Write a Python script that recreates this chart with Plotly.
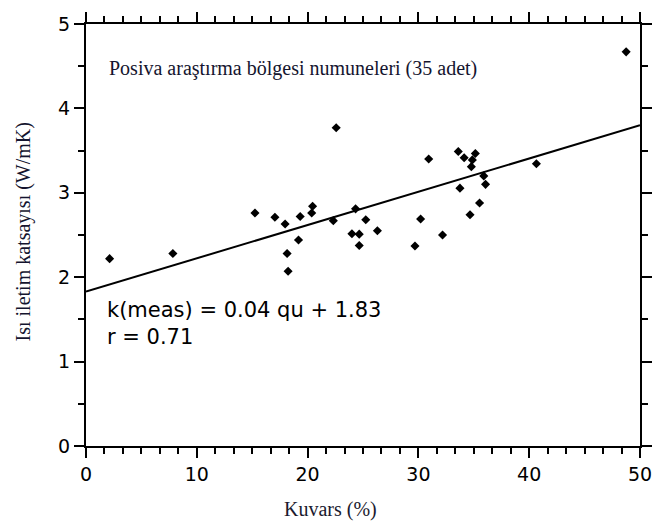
import plotly.graph_objects as go

# Data
quartz_pct = [2.13, 7.84, 15.25, 17.05, 17.97, 18.15, 18.24, 19.18, 19.33, 20.37,
              20.45, 22.32, 22.58, 24.0, 24.33, 24.66, 24.66, 25.25, 26.3, 29.69,
              30.2, 30.93, 32.18, 33.6, 33.75, 34.13, 34.66, 34.78, 34.87, 35.14,
              35.52, 35.9, 36.06, 40.65, 48.75]
conductivity = [2.22, 2.28, 2.76, 2.71, 2.63, 2.28, 2.07, 2.44, 2.72, 2.76,
                2.84, 2.67, 3.77, 2.515, 2.81, 2.51, 2.375, 2.68, 2.55, 2.37,
                2.69, 3.40, 2.50, 3.49, 3.055, 3.415, 2.74, 3.31, 3.39, 3.465,
                2.88, 3.20, 3.10, 3.345, 4.67]

fit_slope = 0.0394
fit_intercept = 1.83
fit_x = [0, 50]
fit_y = [fit_intercept + fit_slope * v for v in fit_x]

x_range = [0, 50]
y_range = [0, 5]
x_major_step = 10
x_minor_step = 10 / 6
y_major_step = 1
y_minor_step = 0.5

fig = go.Figure()
fig.add_trace(go.Scatter(x=fit_x, y=fit_y, mode="lines",
                         line=dict(color="black", width=2), showlegend=False,
                         hoverinfo="skip"))
fig.add_trace(go.Scatter(x=quartz_pct, y=conductivity, mode="markers",
                         marker=dict(symbol="diamond", size=7, color="black"),
                         showlegend=False))

axis_common = dict(showgrid=False, zeroline=False, showline=True, linecolor="black",
                   linewidth=2, mirror="ticks", ticks="outside", ticklen=10,
                   tickwidth=1.5, tickcolor="black", tickmode="linear", tick0=0,
                   tickfont=dict(family="DejaVu Sans", size=19, color="black"))

fig.update_layout(
    width=664, height=522,
    margin=dict(l=86, r=16, t=17, b=76),
    plot_bgcolor="white", paper_bgcolor="white",
    xaxis=dict(range=x_range, dtick=x_major_step,
               minor=dict(ticks="outside", ticklen=6, tickwidth=1.5, tickcolor="black",
                          tickmode="linear", tick0=0, dtick=x_minor_step, showgrid=False),
               **axis_common),
    yaxis=dict(range=y_range, dtick=y_major_step,
               minor=dict(ticks="outside", ticklen=6, tickwidth=1.5, tickcolor="black",
                          tickmode="linear", tick0=0, dtick=y_minor_step, showgrid=False),
               **axis_common),
    annotations=[
        dict(text="Posiva araştırma bölgesi numuneleri (35 adet)", xref="paper", yref="paper",
             x=(107-86)/562, y=(446-62)/429, xanchor="left", yanchor="middle", showarrow=False,
             font=dict(family="Liberation Serif", size=20, color="#14142e")),
        dict(text="k(meas) = 0.04 qu + 1.83<br>r = 0.71", xref="paper", yref="paper",
             x=(105-86)/562, y=(446-321)/429, xanchor="left", yanchor="middle", showarrow=False,
             align="left",
             font=dict(family="DejaVu Sans", size=21, color="black")),
        dict(text="Kuvars (%)", xref="paper", yref="paper",
             x=(334-86)/562, y=(446-511)/429, xanchor="center", yanchor="middle", showarrow=False,
             font=dict(family="Liberation Serif", size=20, color="#1a1a2e")),
        dict(text="Isı iletim katsayısı (W/mK)", xref="paper", yref="paper",
             x=(23-86)/562, y=(446-228)/429, xanchor="center", yanchor="middle", showarrow=False,
             textangle=-90,
             font=dict(family="Liberation Serif", size=20, color="#14142e")),
    ],
)

fig.write_html("out.html")
